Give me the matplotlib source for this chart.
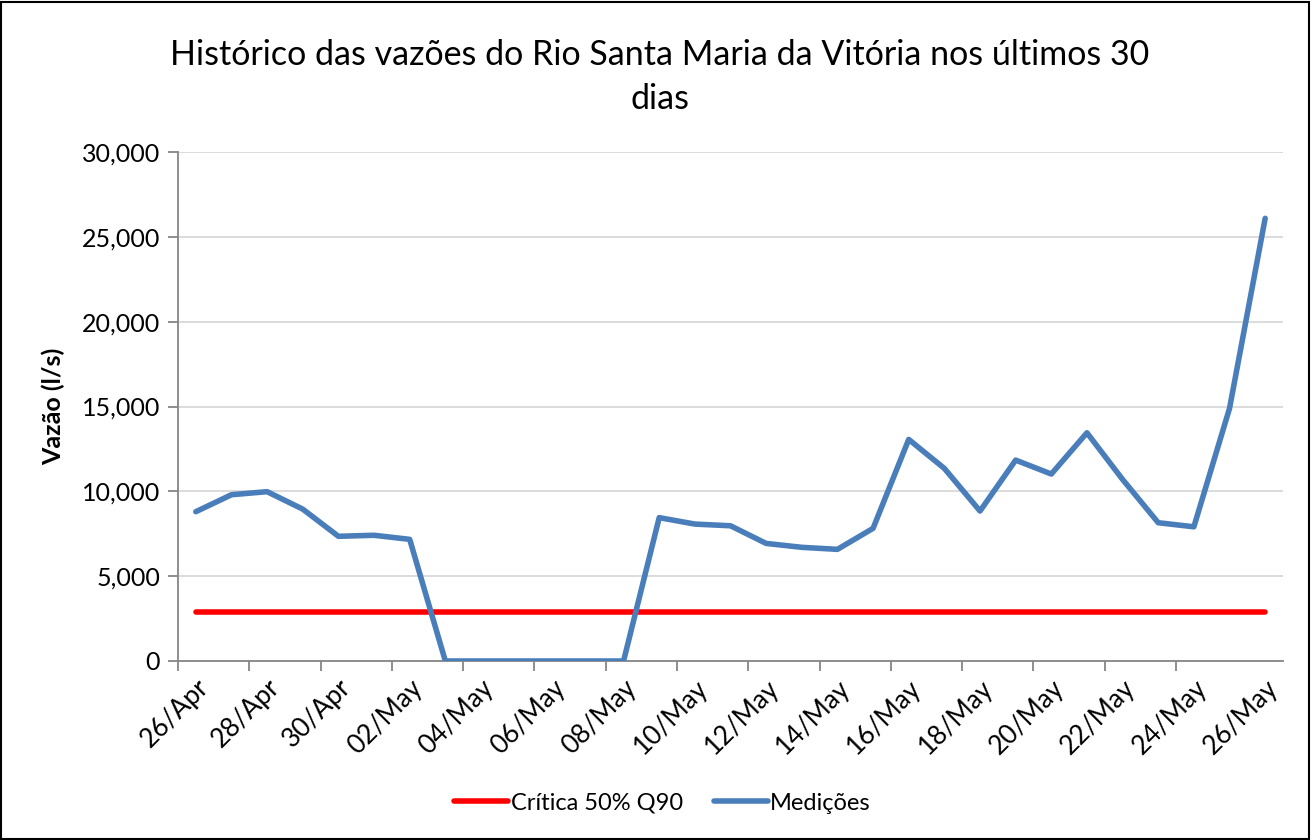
import matplotlib
matplotlib.use("Agg")
import matplotlib.pyplot as plt
from matplotlib.patches import Rectangle

plt.rcParams['font.family'] = ['Lato', 'DejaVu Sans']

# daily categories 26/Apr .. 26/May
dates = ["26/Apr", "27/Apr", "28/Apr", "29/Apr", "30/Apr",
         "01/May", "02/May", "03/May", "04/May", "05/May", "06/May", "07/May",
         "08/May", "09/May", "10/May", "11/May", "12/May", "13/May", "14/May",
         "15/May", "16/May", "17/May", "18/May", "19/May", "20/May", "21/May",
         "22/May", "23/May", "24/May", "25/May", "26/May"]

medicoes = [8800, 9800, 9980, 8950, 7350, 7410, 7170,
            0, 0, 0, 0, 0, 0,
            8450, 8070, 7970, 6930, 6700, 6580, 7820,
            13060, 11350, 8840, 11840, 11020, 13450,
            10700, 8150, 7910, 14890, 26090]

critica = [2870] * len(dates)

title = "Histórico das vazões do Rio Santa Maria da Vitória nos últimos 30\ndias"

fig = plt.figure(figsize=(13.12, 8.4), dpi=100)
ax = fig.add_axes([178/1312, 1 - 661/840, (1283 - 178)/1312, (661 - 152)/840])

x = list(range(len(dates)))
ax.plot(x, critica, color="#FF0000", lw=4, solid_capstyle="round",
        label="Crítica 50% Q90", zorder=3)
ax.plot(x, medicoes, color="#4A7EBB", lw=4, solid_capstyle="round",
        solid_joinstyle="round", label="Medições", zorder=4)

ax.set_xlim(-0.5, len(dates) - 0.5)
ax.set_ylim(0, 30000)
ax.set_yticks(range(0, 30001, 5000))
ax.set_yticklabels([f"{v:,}" for v in range(0, 30001, 5000)], fontsize=18)
ax.yaxis.grid(True, color="#D9D9D9", lw=1.3)
ax.set_axisbelow(True)

# tick marks between categories, labels on every other category
ax.set_xticks([i - 0.5 for i in range(0, len(dates), 2)][:-1])
ax.set_xticklabels([])
ax.set_xticks(x[::2], minor=True)
ax.set_xticklabels(dates[::2], minor=True, rotation=45, ha="right",
                   rotation_mode="anchor", fontsize=19)
ax.tick_params(axis="x", which="minor", length=0, pad=10)
ax.tick_params(axis="x", which="major", length=7, width=1.3, color="#868686")
ax.tick_params(axis="y", length=7, width=1.3, color="#868686", pad=6)

for s in ["top", "right"]:
    ax.spines[s].set_visible(False)
for s in ["left", "bottom"]:
    ax.spines[s].set_color("#868686")
    ax.spines[s].set_linewidth(1.3)

ax.set_ylabel("Vazão (l/s)", fontsize=18, fontweight="bold", labelpad=12)

fig.text(0.503, 1 - 77/840, title, ha="center", va="center", fontsize=24.5,
         linespacing=1.45)

fig.legend(loc="center", bbox_to_anchor=(0.505, 1 - 803/840),
           ncol=2, frameon=False, fontsize=17, handlelength=2.3,
           handletextpad=0.1, columnspacing=1.3)

fig.patches.append(Rectangle((0.001, 0.001), 0.997, 0.997, transform=fig.transFigure,
                             fill=False, edgecolor="black", lw=1.5))

fig.savefig("out.png", dpi=100)
